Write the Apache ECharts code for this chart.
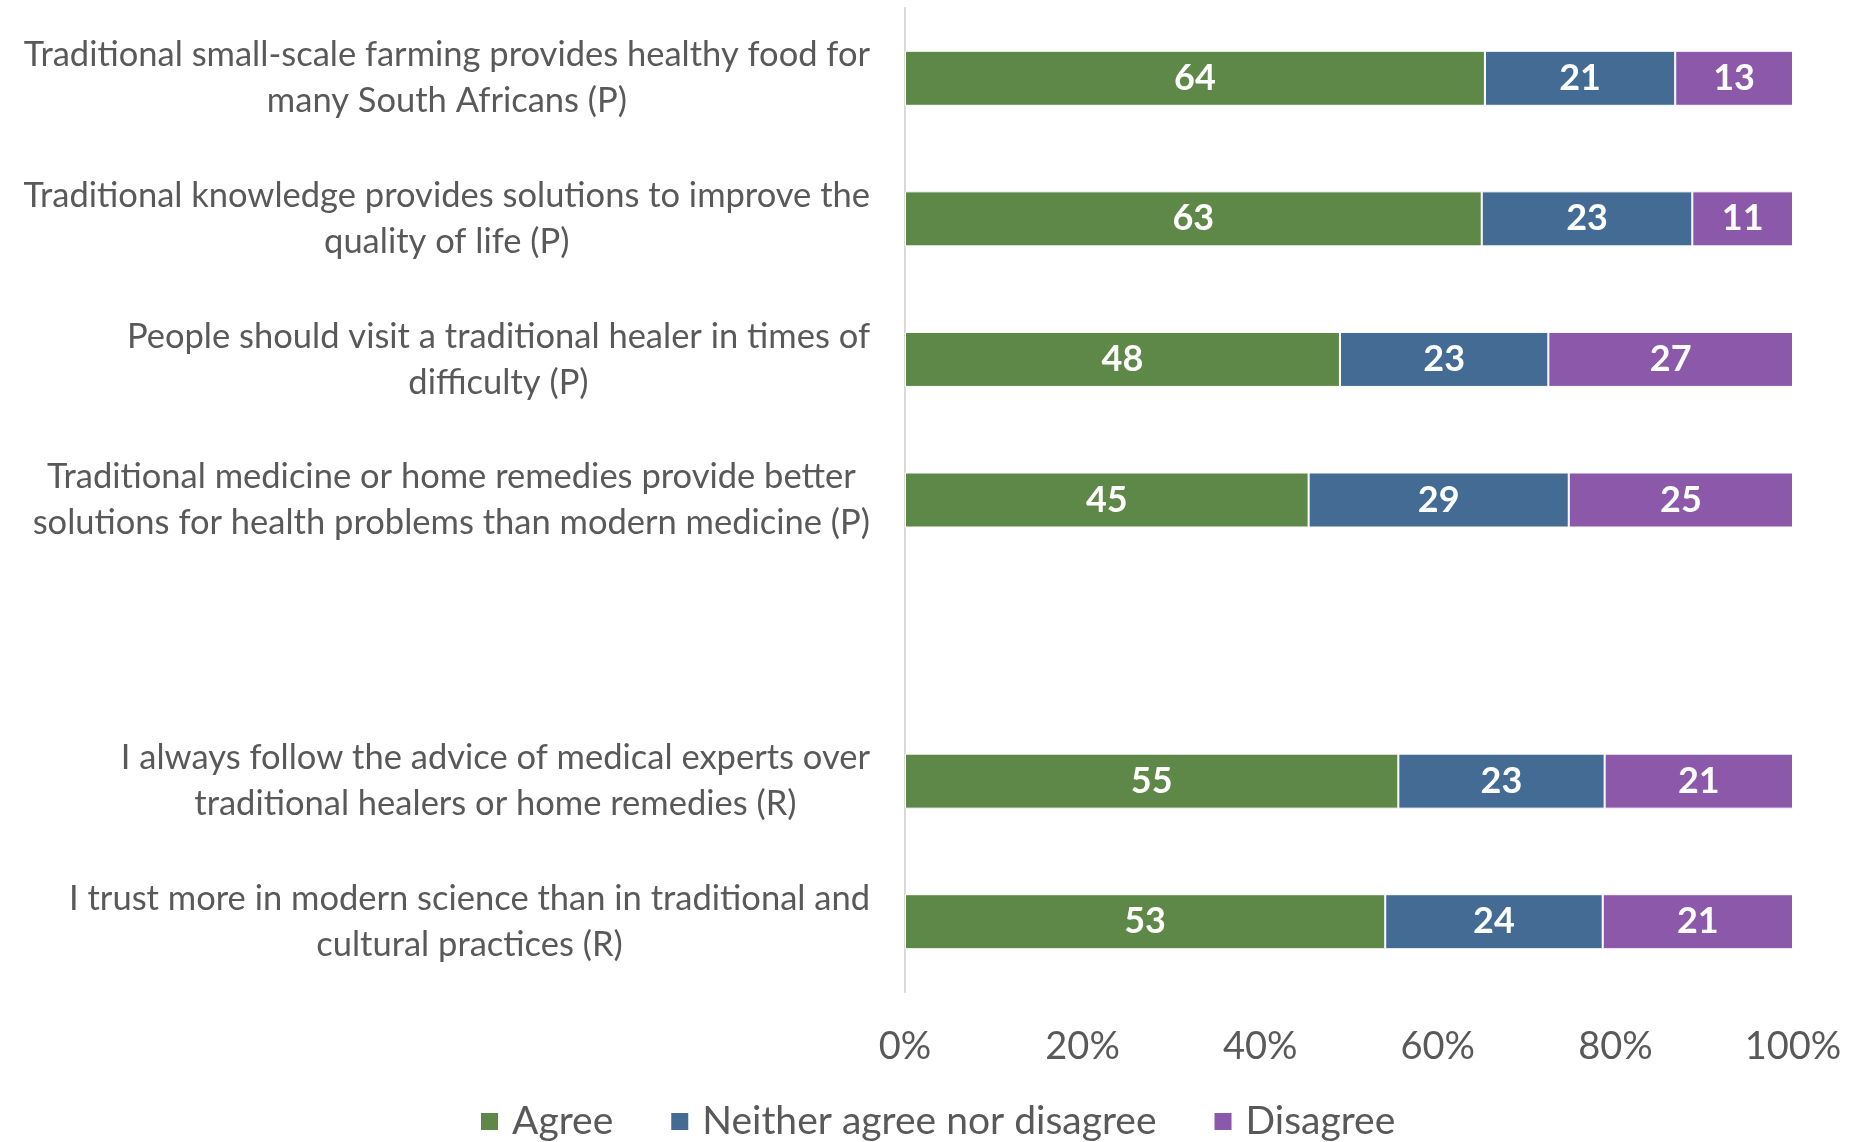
<!DOCTYPE html>
<html>
<head>
<meta charset="utf-8">
<script src="https://cdn.jsdelivr.net/npm/echarts@6/dist/echarts.min.js"></script>
<style>
  html, body { margin: 0; padding: 0; background: #fff; }
  #chart { width: 1853px; height: 1142px; }
</style>
</head>
<body>
<div id="chart"></div>
<script>
// statements, top to bottom (empty string = the gap row)
var statements = [
  'Traditional small-scale farming provides healthy food for\nmany South Africans (P)',
  'Traditional knowledge provides solutions to improve the\nquality of life (P)',
  'People should visit a traditional healer in times of\ndifficulty (P)',
  'Traditional medicine or home remedies provide better\nsolutions for health problems than modern medicine (P)',
  '',
  'I always follow the advice of medical experts over\ntraditional healers or home remedies (R)',
  'I trust more in modern science than in traditional and\ncultural practices (R)'
];
var seriesNames = ['Agree', 'Neither agree nor disagree', 'Disagree'];
var agree    = [64, 63, 48, 45, null, 55, 53];
var neither  = [21, 23, 23, 29, null, 23, 24];
var disagree = [13, 11, 27, 25, null, 21, 21];
var xTicks = [0, 20, 40, 60, 80, 100];

var colors = ['#5e8847', '#436b94', '#8b58aa'];
var raw = [agree, neither, disagree];
var fontFam = 'Lato, "Noto Sans", sans-serif';

// bars are drawn as share of the row total (100% stacked)
function share(arr) {
  return arr.map(function (v, i) {
    if (v == null) return null;
    var total = agree[i] + neither[i] + disagree[i];
    return v / total * 100;
  });
}

var chart = echarts.init(document.getElementById('chart'));
var option = {
  animation: false,
  color: colors,
  grid: { left: 905, right: 60, top: 8, bottom: 150 },
  legend: {
    data: seriesNames,
    bottom: -4,
    left: 474,
    itemWidth: 19,
    itemHeight: 19,
    itemGap: 56,
    icon: 'rect',
    textStyle: { color: '#595959', fontSize: 39, fontFamily: fontFam, padding: [0, 0, 0, 8] }
  },
  xAxis: {
    type: 'value',
    min: xTicks[0],
    max: xTicks[xTicks.length - 1],
    interval: 20,
    axisLine: { show: false },
    axisTick: { show: false },
    splitLine: { show: false },
    axisLabel: {
      margin: 36,
      color: '#595959',
      fontSize: 38,
      fontFamily: fontFam,
      formatter: '{value}%'
    }
  },
  yAxis: {
    type: 'category',
    inverse: true,
    data: statements,
    axisLine: { show: true, lineStyle: { color: '#d9d9d9', width: 2 } },
    axisTick: { show: false },
    axisLabel: {
      margin: 35,
      align: 'right',
      formatter: function (val) {
        if (!val) return '';
        return val.split('\n').map(function (l) { return '{c|' + l + '}'; }).join('\n');
      },
      rich: {
        c: { align: 'center', color: '#595959', fontSize: 34.5, lineHeight: 46, fontFamily: fontFam }
      }
    }
  },
  series: seriesNames.map(function (name, k) {
    return {
      name: name,
      type: 'bar',
      stack: 'total',
      barWidth: 55,
      data: share(raw[k]),
      itemStyle: { borderColor: '#ffffff', borderWidth: 1 },
      label: {
        show: true,
        position: 'inside',
        color: '#ffffff',
        fontWeight: 'bold',
        fontSize: 36,
        fontFamily: fontFam,
        formatter: function (p) { return raw[k][p.dataIndex]; }
      }
    };
  })
};
chart.setOption(option);
</script>
</body>
</html>
